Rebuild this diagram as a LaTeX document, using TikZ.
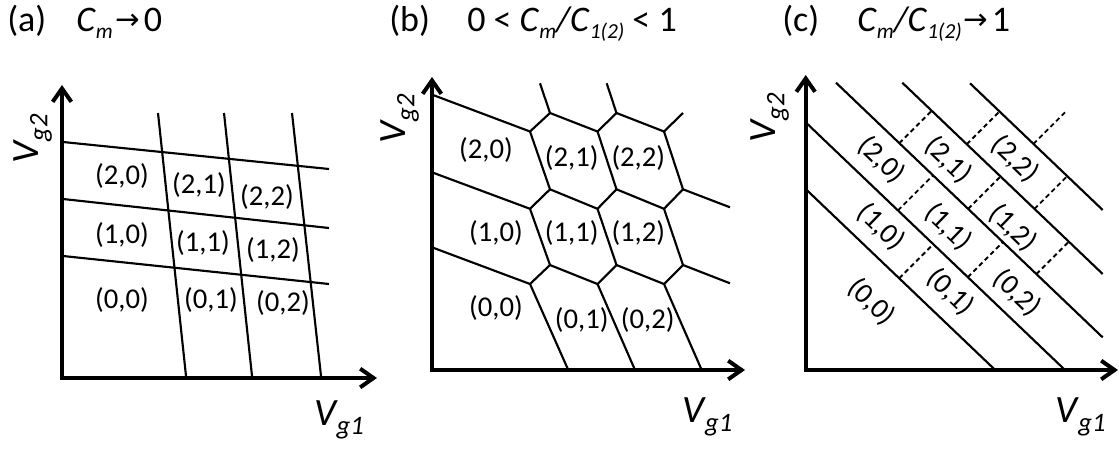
\documentclass[tikz,border=0pt]{standalone}
\usepackage{fontspec}
\setmainfont{Carlito}
\newfontfamily\arrowfont{DejaVu Sans}
\usetikzlibrary{arrows.meta}
\newcommand\tsub[1]{\raisebox{-5.5pt}{\fontsize{16}{19}\selectfont\itshape #1}}
\newcommand\tarr{{\arrowfont\fontsize{22}{26}\selectfont\raisebox{1pt}{→}}}
\newcommand\Vlab[1]{\textit{V}\kern-1pt\raisebox{-6.5pt}{\fontsize{20}{24}\selectfont\itshape #1}}
\begin{document}
\begin{tikzpicture}[x=0.75pt,y=-0.75pt,
  axis/.style={line width=3pt, line join=miter, {Straight Barb[length=10pt,width=14pt]}-{Straight Barb[length=10pt,width=14pt]}},
  gridline/.style={line width=1.6pt},
  dashline/.style={line width=1.4pt, dash pattern=on 3.5pt off 2.5pt},
  cell/.style={font=\fontsize{21.5}{26}\selectfont, inner sep=0pt},
  vlab/.style={font=\fontsize{29}{34}\selectfont, inner sep=0pt},
  ttl/.style={font=\fontsize{27}{32}\selectfont, inner sep=0pt, anchor=base west},
]
\useasboundingbox (0,0) rectangle (1119,450);

% ---------- titles ----------
\node[ttl] (ta) at (7,31) {(a)};
\node[ttl] (tae) at (76,31) {\textit{C}\tsub{m}\hspace{2pt}\tarr\hspace{3pt}0};
\node[ttl] (tb) at (389,31) {(b)};
\node[ttl] (tbe) at (467,31) {0 < \textit{C}\tsub{m}\textit{/C}\tsub{1(2)} < 1};
\node[ttl] (tc) at (782,31) {(c)};
\node[ttl] (tce) at (857,31) {\textit{C}\tsub{m}\textit{/C}\tsub{1(2)}\hspace{1pt}\tarr\hspace{3pt}1};

% ---------- panel (a) ----------
\draw[axis] (62,85) -- (62,378) -- (377,378);
\draw[gridline] (63,142) -- (329,169);
\draw[gridline] (63,199) -- (329,228);
\draw[gridline] (63,256) -- (329,284);
\draw[gridline] (158,113) -- (186,376);
\draw[gridline] (224,113) -- (252,376);
\draw[gridline] (292,113) -- (321,376);
\node[cell] (a20) at (122,176) {(2,0)};
\node[cell] (a21) at (199,185) {(2,1)};
\node[cell] (a22) at (267,197) {(2,2)};
\node[cell] (a10) at (122,235) {(1,0)};
\node[cell] (a11) at (203,243) {(1,1)};
\node[cell] (a12) at (273,250) {(1,2)};
\node[cell] (a00) at (122,300) {(0,0)};
\node[cell] (a01) at (211,300) {(0,1)};
\node[cell] (a02) at (283,303) {(0,2)};
\node[vlab, rotate=90] (avg2) at (33,139) {\Vlab{g2}};
\node[vlab] (avg1) at (339,420) {\Vlab{g1}};

% ---------- panel (b) ----------
\draw[axis] (432,77) -- (432,370) -- (745,370);
\coordinate (T1) at (550,113); \coordinate (T2) at (616.5,113);
\coordinate (U0) at (530,131.5); \coordinate (U1) at (597.5,131.5); \coordinate (U2) at (664,131.5);
\coordinate (M1) at (550,189.3); \coordinate (M2) at (616.5,189.3); \coordinate (M3) at (683,189.3);
\coordinate (N0) at (530,208.8); \coordinate (N1) at (597.5,208.8); \coordinate (N2) at (664,208.8);
\coordinate (P1) at (550,265); \coordinate (P2) at (616.5,265); \coordinate (P3) at (683,265);
\coordinate (Q0) at (530,284); \coordinate (Q1) at (597.5,284); \coordinate (Q2) at (664,284);
\coordinate (R0) at (568.3,370); \coordinate (R1) at (635,370); \coordinate (R2) at (701.7,370);
\coordinate (L1) at (433,95); \coordinate (L2) at (433,172.7); \coordinate (L3) at (433,247.7);
\coordinate (S1) at (540,83.3); \coordinate (S2) at (606.7,83.3); \coordinate (S3) at (683,113);
\coordinate (E1) at (730,207.3); \coordinate (E2) at (730,283.3);
\draw[gridline] (L1) -- (U0) -- (M1) -- (N0) -- (P1) -- (Q0) -- (R0);
\draw[gridline] (L2) -- (N0);
\draw[gridline] (L3) -- (Q0);
\draw[gridline] (S1) -- (T1) -- (U0);
\draw[gridline] (T1) -- (U1) -- (M2) -- (N1) -- (P2) -- (Q1) -- (R1);
\draw[gridline] (M1) -- (N1);
\draw[gridline] (P1) -- (Q1);
\draw[gridline] (S2) -- (T2) -- (U1);
\draw[gridline] (T2) -- (U2) -- (M3) -- (N2) -- (P3) -- (Q2) -- (R2);
\draw[gridline] (M2) -- (N2);
\draw[gridline] (P2) -- (Q2);
\draw[gridline] (U2) -- (S3);
\draw[gridline] (M3) -- (E1);
\draw[gridline] (P3) -- (E2);
\node[cell] (b20) at (486,150) {(2,0)};
\node[cell] (b21) at (571.7,158.3) {(2,1)};
\node[cell] (b22) at (638.3,158.3) {(2,2)};
\node[cell] (b10) at (496,233.3) {(1,0)};
\node[cell] (b11) at (571.7,233.3) {(1,1)};
\node[cell] (b12) at (638.3,233.3) {(1,2)};
\node[cell] (b00) at (496,308.3) {(0,0)};
\node[cell] (b01) at (581.7,320) {(0,1)};
\node[cell] (b02) at (647.7,320) {(0,2)};
\node[vlab, rotate=90] (bvg2) at (400,119) {\Vlab{g2}};
\node[vlab] (bvg1) at (707.5,417) {\Vlab{g1}};

% ---------- panel (c) ----------
\draw[axis] (805.7,75) -- (805.7,370) -- (1118,370);
\draw[gridline] (806.7,190) -- (995.2,370);
\draw[gridline] (806.7,123.3) -- (1065,370);
\draw[gridline] (836,82.7) -- (1102.7,337.4);
\draw[gridline] (902.3,82.7) -- (1102.7,274);
\draw[gridline] (970,83.3) -- (1102.7,210);
% dashed separators
\draw[dashline] (899.3,143.2) -- (931.7,110.8);
\draw[dashline] (966.8,144.2) -- (999.5,111.5);
\draw[dashline] (1033.5,143.9) -- (1065,112.3);
\draw[dashline] (898,210.4) -- (933.1,175.3);
\draw[dashline] (968.1,208.9) -- (1000.5,176.5);
\draw[dashline] (1034.5,208.9) -- (1067.3,176.1);
\draw[dashline] (899.2,278.3) -- (933.3,244.2);
\draw[dashline] (967.8,277.2) -- (1002.9,242.1);
\draw[dashline] (1036.4,274.1) -- (1068.8,241.7);
\node[cell, rotate=-44] (c20) at (881.7,160) {(2,0)};
\node[cell, rotate=-44] (c21) at (948.3,160) {(2,1)};
\node[cell, rotate=-44] (c22) at (1015,159) {(2,2)};
\node[cell, rotate=-44] (c10) at (881,227) {(1,0)};
\node[cell, rotate=-44] (c11) at (948.3,227) {(1,1)};
\node[cell, rotate=-44] (c12) at (1013,228) {(1,2)};
\node[cell, rotate=-44] (c00) at (871.7,302) {(0,0)};
\node[cell, rotate=-44] (c01) at (950.7,292) {(0,1)};
\node[cell, rotate=-44] (c02) at (1017,293) {(0,2)};
\node[vlab, rotate=90] (cvg2) at (770,118) {\Vlab{g2}};
\node[vlab] (cvg1) at (1080.7,417) {\Vlab{g1}};
\end{tikzpicture}
\end{document}
